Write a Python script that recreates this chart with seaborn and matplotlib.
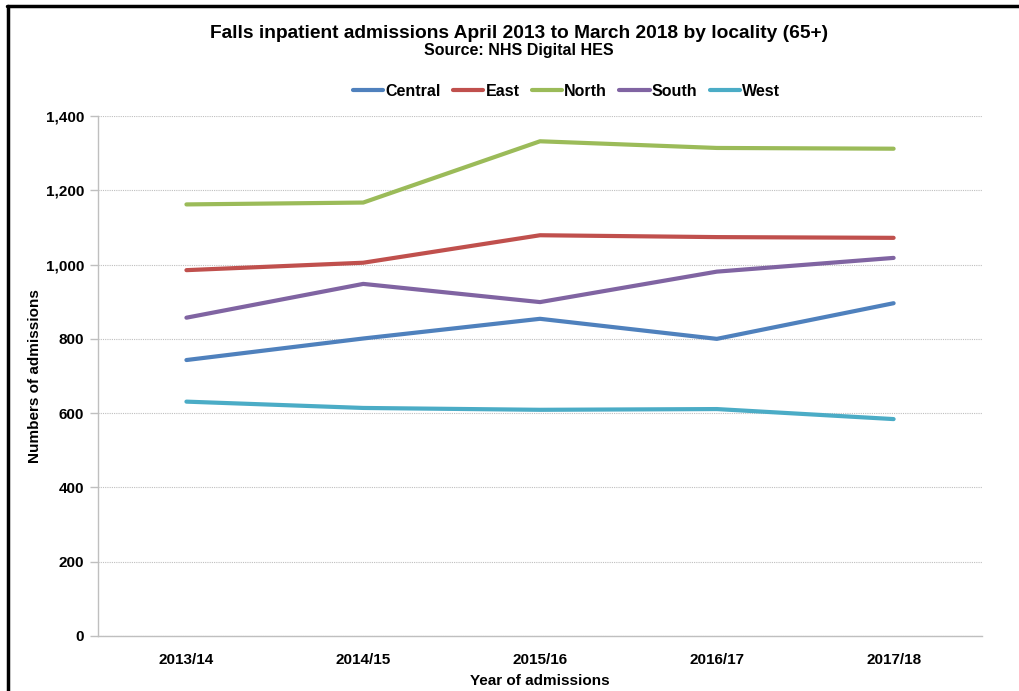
import matplotlib
matplotlib.use("Agg")
import matplotlib.pyplot as plt
from matplotlib.lines import Line2D
import seaborn as sns
import pandas as pd
import numpy as np

years = ["2013/14", "2014/15", "2015/16", "2016/17", "2017/18"]
central = [743, 801, 854, 800, 896]
east = [985, 1005, 1079, 1074, 1072]
north = [1162, 1167, 1332, 1314, 1312]
south = [857, 948, 899, 981, 1018]
west = [631, 614, 609, 611, 584]
localities = ["Central", "East", "North", "South", "West"]
colors = ["#4F81BD", "#C0504D", "#9BBB59", "#8064A2", "#4BACC6"]

series = [central, east, north, south, west]
df = pd.DataFrame({
    "Year": years * len(localities),
    "Locality": [loc for loc in localities for _ in years],
    "Admissions": [v for s in series for v in s],
})

sns.set_theme(style="white")
plt.rcParams["font.family"] = ["Liberation Sans", "DejaVu Sans"]
plt.rcParams["text.color"] = "black"
plt.rcParams["axes.labelcolor"] = "black"
plt.rcParams["xtick.color"] = "black"
plt.rcParams["ytick.color"] = "black"

fig = plt.figure(figsize=(10.19, 6.91), dpi=100)
ax = fig.add_axes([0.0962, 0.0796, 0.8675, 0.7525])

sns.lineplot(data=df, x="Year", y="Admissions", hue="Locality",
             palette=dict(zip(localities, colors)), linewidth=3,
             sort=False, ax=ax, legend=False)

ax.set_xlim(-0.5, 4.5)
ax.set_ylim(0, 1400)
ax.set_yticks(np.arange(0, 1401, 200))
ax.set_yticklabels([f"{v:,}" for v in range(0, 1401, 200)],
                   fontsize=11, fontweight="bold")
ax.set_xticks(range(len(years)))
ax.set_xticklabels(years, fontsize=11, fontweight="bold")
ax.set_xticks(np.arange(-0.5, 4.6, 1), minor=True)
ax.tick_params(axis="x", which="major", length=0, pad=12)
ax.tick_params(axis="x", which="minor", length=6, color="#BFBFBF", width=1, direction="out")
ax.tick_params(axis="y", which="major", length=6, color="#BFBFBF", width=1,
               direction="out", pad=4, left=True, labelcolor="black")

ax.grid(axis="y", color="#BFBFBF", linestyle=(0, (1, 1)), linewidth=0.8)
ax.set_axisbelow(True)
for side in ["top", "right"]:
    ax.spines[side].set_visible(False)
for side in ["left", "bottom"]:
    ax.spines[side].set_color("#BFBFBF")
    ax.spines[side].set_linewidth(1)

ax.set_xlabel("Year of admissions", fontsize=11, fontweight="bold", labelpad=5)
ax.set_ylabel("Numbers of admissions", fontsize=11, fontweight="bold", labelpad=3)

fig.text(0.509, 0.952, "Falls inpatient admissions April 2013 to March 2018 by locality (65+)",
         ha="center", va="center", fontsize=13.8, fontweight="bold")
fig.text(0.509, 0.927, "Source: NHS Digital HES",
         ha="center", va="center", fontsize=11.5, fontweight="bold")

handles = [Line2D([0], [0], color=c, lw=3) for c in colors]
fig.legend(handles, localities, loc="center", bbox_to_anchor=(0.556, 0.868),
           ncol=5, frameon=False, handlelength=1.9, handletextpad=0.15,
           columnspacing=0.75, prop={"size": 11.5, "weight": "bold"})

# outer border (left and top)
fig.add_artist(Line2D([0.0078, 0.0078], [0, 0.9913], color="black", lw=2.5,
                      transform=fig.transFigure))
fig.add_artist(Line2D([0.0066, 1.0], [0.9913, 0.9913], color="black", lw=2.5,
                      transform=fig.transFigure))

fig.savefig("out.png", dpi=100)
